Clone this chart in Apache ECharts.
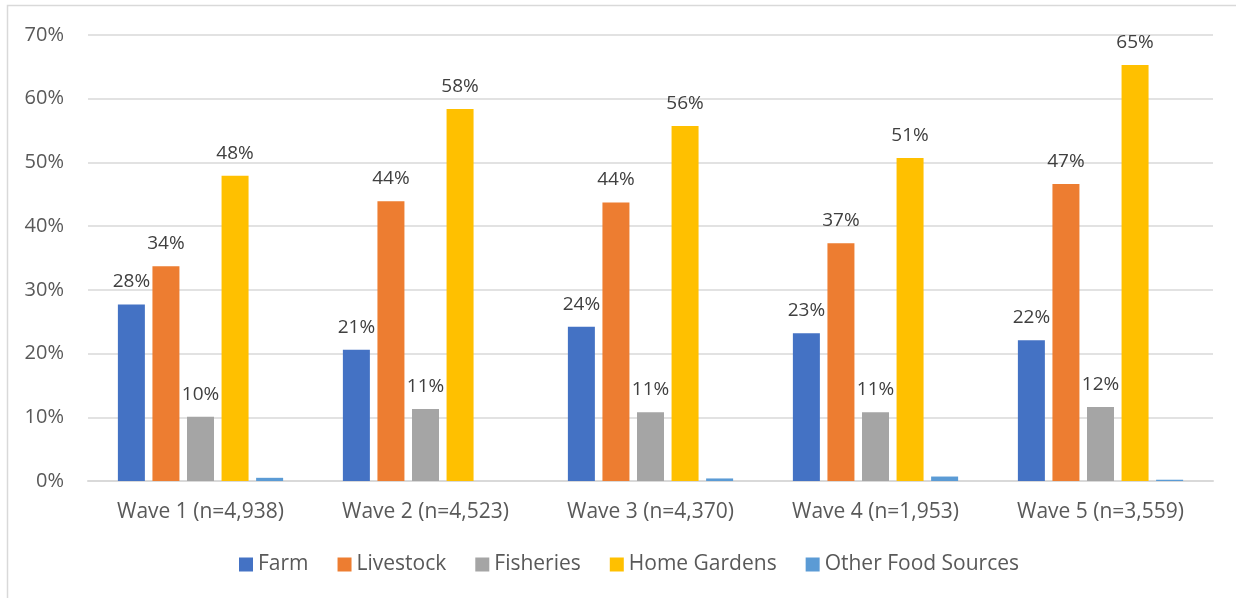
<!DOCTYPE html>
<html>
<head>
<meta charset="utf-8">
<script src="https://cdn.jsdelivr.net/npm/echarts@6/dist/echarts.min.js"></script>
<style>
  html, body { margin: 0; padding: 0; background: #ffffff; }
  #chart { width: 1236px; height: 598px; }
</style>
</head>
<body>
<div id="chart"></div>
<script>
// Share of households using each food source, by survey wave (%)
const waves = ['Wave 1 (n=4,938)', 'Wave 2 (n=4,523)', 'Wave 3 (n=4,370)', 'Wave 4 (n=1,953)', 'Wave 5 (n=3,559)'];
const farm = [27.7, 20.6, 24.2, 23.2, 22.1];
const livestock = [33.7, 43.9, 43.7, 37.3, 46.6];
const fisheries = [10.1, 11.3, 10.8, 10.8, 11.6];
const homeGardens = [47.9, 58.4, 55.7, 50.7, 65.3];
const otherSources = [0.5, 0, 0.4, 0.7, 0.2];
const yTicks = [0, 10, 20, 30, 40, 50, 60, 70];

const FONT = '"Open Sans", "Noto Sans", sans-serif';

const chart = echarts.init(document.getElementById('chart'), null, { renderer: 'canvas' });

function barSeries(name, data, color, showLabel) {
  return {
    name: name,
    type: 'bar',
    data: data,
    barWidth: 27,
    barGap: '28%',
    itemStyle: { color: color },
    label: {
      show: showLabel,
      position: 'top',
      distance: 13,
      color: '#404040',
      fontFamily: FONT,
      fontSize: 19,
      formatter: p => Math.round(p.value) + '%'
    },
    emphasis: { disabled: true }
  };
}

chart.setOption({
  animation: false,
  textStyle: { fontFamily: FONT },
  graphic: [{
    type: 'rect',
    shape: { x: 7.5, y: 5.5, width: 1400, height: 800 },
    style: { fill: 'none', stroke: '#d9d9d9', lineWidth: 1.5 },
    silent: true,
    z: -10
  }],
  grid: { left: 88, right: 23, top: 35, bottom: 117 },
  legend: {
    left: 234,
    bottom: 18,
    itemWidth: 14,
    itemHeight: 14,
    itemGap: 29,
    icon: 'rect',
    textStyle: { color: '#595959', fontSize: 21, fontFamily: FONT },
    data: ['Farm', 'Livestock', 'Fisheries', 'Home Gardens', 'Other Food Sources']
  },
  xAxis: {
    type: 'category',
    data: waves,
    axisLine: { show: true, lineStyle: { color: '#d9d9d9', width: 2 } },
    axisTick: { show: false },
    axisLabel: { color: '#595959', fontSize: 21, fontFamily: FONT, margin: 21 }
  },
  yAxis: {
    type: 'value',
    min: yTicks[0],
    max: yTicks[yTicks.length - 1],
    interval: 10,
    axisLine: { show: false },
    axisTick: { show: false },
    splitLine: { lineStyle: { color: '#d9d9d9', width: 1.5 } },
    axisLabel: { color: '#595959', fontSize: 20, fontFamily: FONT, margin: 24, formatter: v => v + '%' }
  },
  series: [
    barSeries('Farm', farm, '#4472C4', true),
    barSeries('Livestock', livestock, '#ED7D31', true),
    barSeries('Fisheries', fisheries, '#A5A5A5', true),
    barSeries('Home Gardens', homeGardens, '#FFC000', true),
    barSeries('Other Food Sources', otherSources, '#5B9BD5', false)
  ]
});
</script>
</body>
</html>
